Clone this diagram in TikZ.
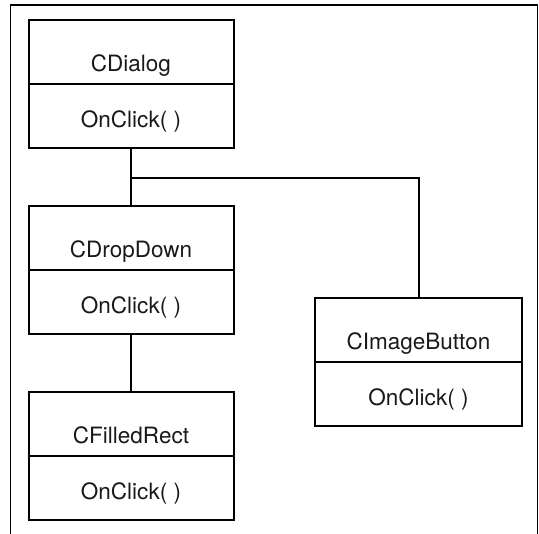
\documentclass[tikz,border=0pt]{standalone}
\usepackage{fontspec}
\setmainfont{TeX Gyre Heros}
\begin{document}
\begin{tikzpicture}[x=1pt,y=-1pt,
  comp/.style={draw=black,line width=2pt,inner sep=0pt,minimum height=64pt,
    font=\fontsize{22.5}{27}\selectfont,text=black!90},
  titlec/.style={comp,text height=40pt,text depth=0pt},
  methodc/.style={comp,text height=24pt,text depth=0pt},
  link/.style={draw=black,line width=2pt},
  frameline/.style={draw=black,line width=1.2pt}]
\useasboundingbox (0,0) rectangle (539,534);
% frame
\draw[frameline] (10.5,534) -- (10.5,5) -- (537.8,5) -- (537.8,534);
% CDialog
\node[titlec,minimum width=205pt] (dlgT) at (131,52) {CDialog};
\node[methodc,minimum width=205pt] (dlgM) at (131,116) {OnClick( )};
% CDropDown
\node[titlec,minimum width=205pt] (ddT) at (131,238) {CDropDown};
\node[methodc,minimum width=205pt] (ddM) at (131,302) {OnClick( )};
% CFilledRect
\node[titlec,minimum width=205pt] (frT) at (131,424) {CFilledRect};
\node[methodc,minimum width=205pt] (frM) at (131,488) {OnClick( )};
% CImageButton
\node[titlec,minimum width=207pt] (ibT) at (418.5,330) {CImageButton};
\node[methodc,minimum width=207pt] (ibM) at (418.5,394) {OnClick( )};
% connectors
\coordinate (j) at (dlgM.south |- 0,178);
\draw[link] (dlgM.south) -- (ddT.north);
\draw[link] (j) -| (ibT.north);
\draw[link] (ddM.south) -- (frT.north);
\end{tikzpicture}
\end{document}
